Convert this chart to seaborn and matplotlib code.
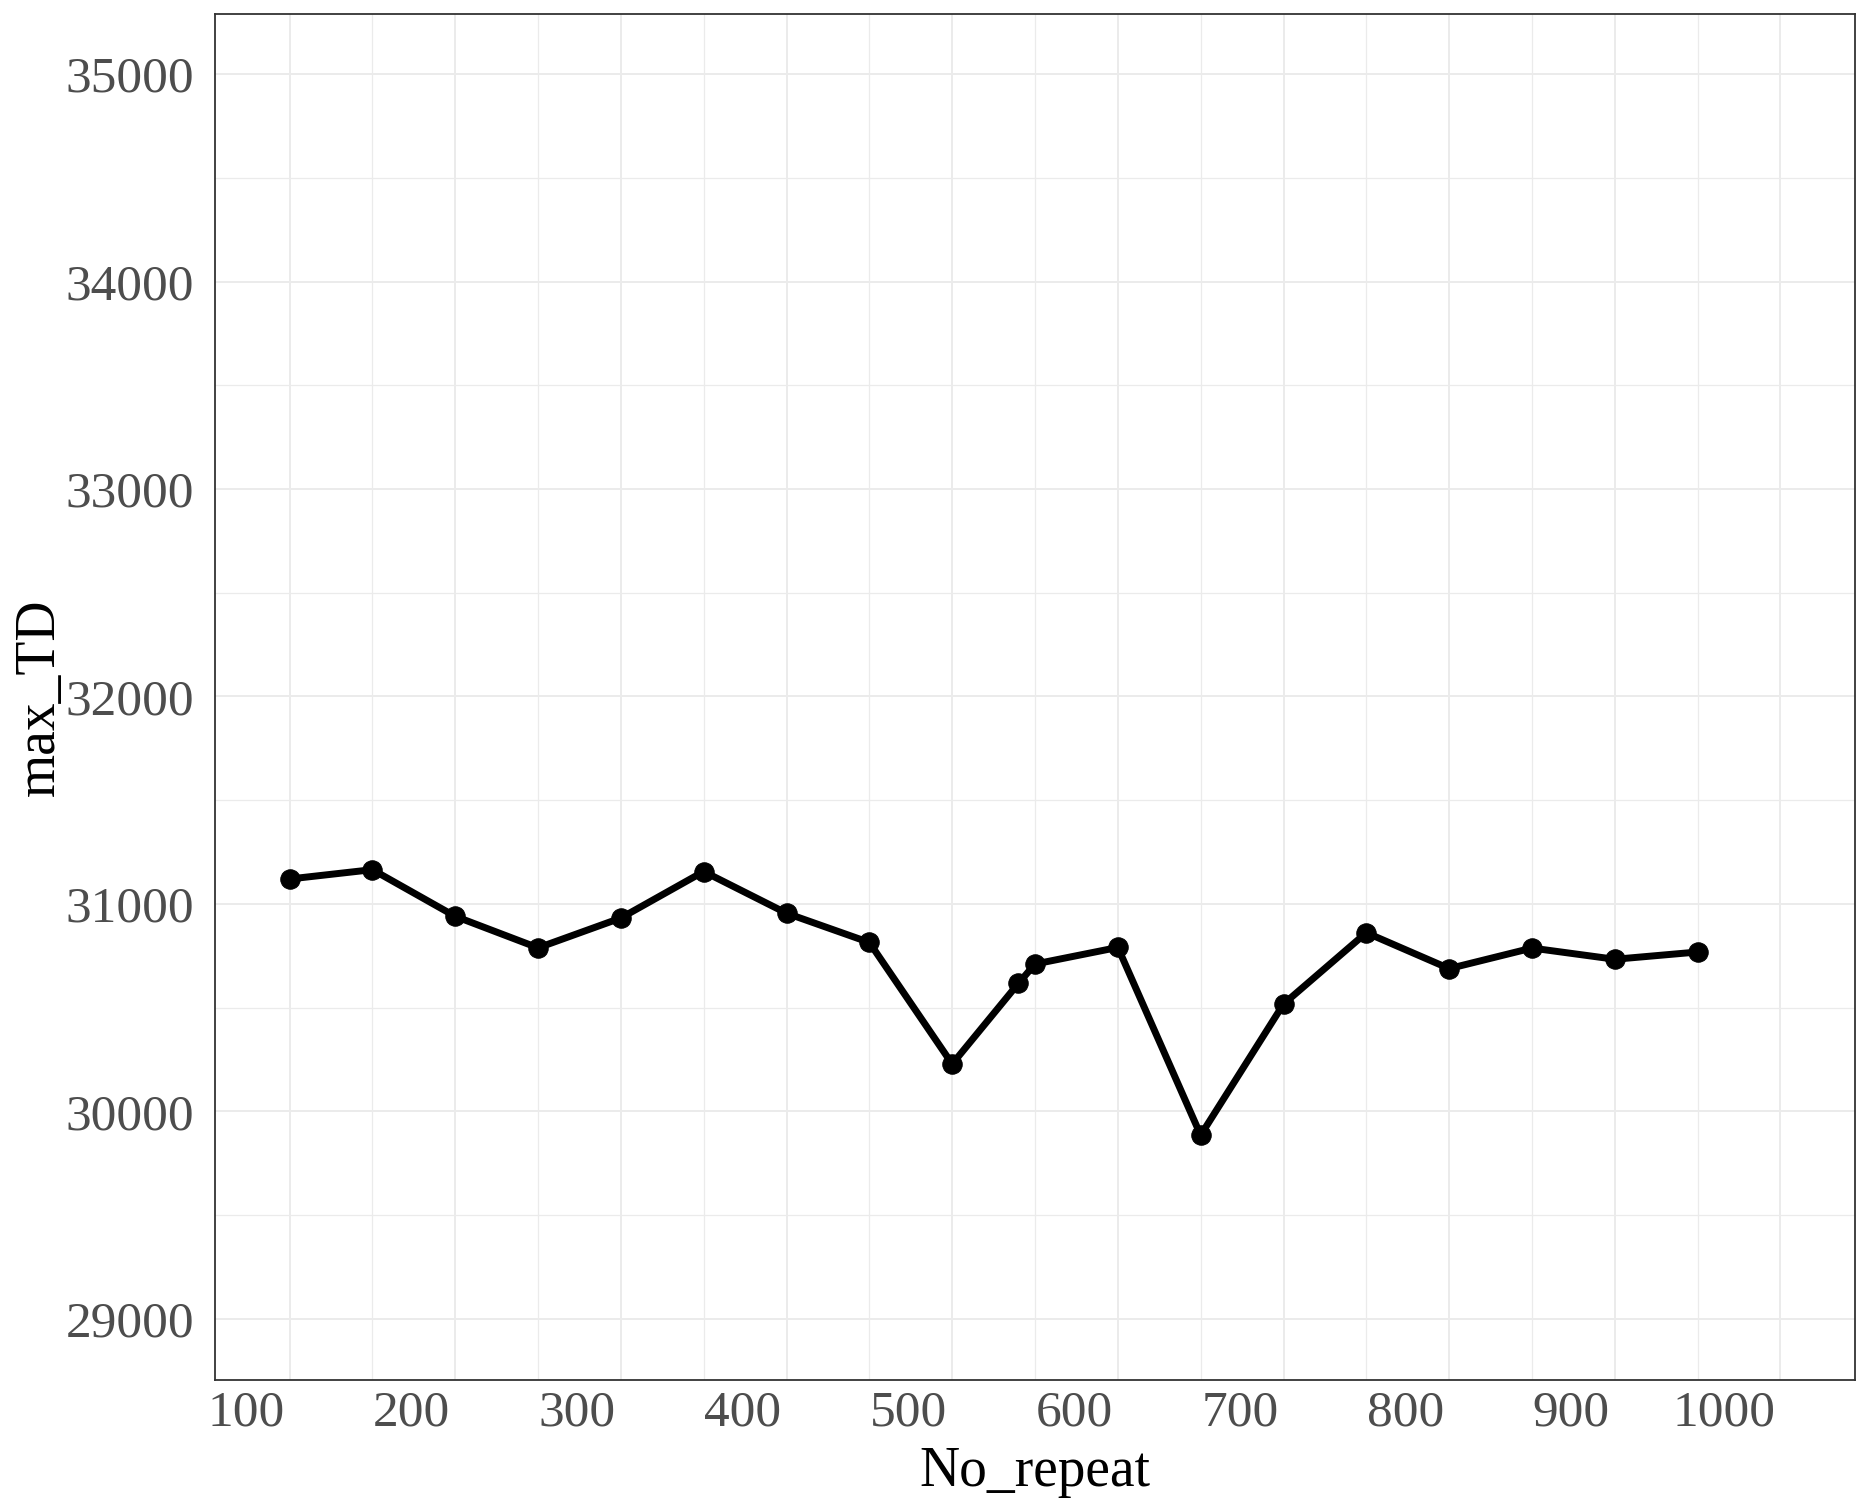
import matplotlib
matplotlib.use("Agg")
import matplotlib.pyplot as plt
import matplotlib.transforms as mtransforms
import numpy as np
import pandas as pd
import seaborn as sns
from matplotlib.ticker import MultipleLocator

# valores
no_repeat = [100, 150, 200, 250, 300, 350, 400, 450, 500, 540,
             550, 600, 650, 700, 750, 800, 850, 900, 950]
max_td = [31120, 31165, 30940, 30788, 30932, 31156, 30955, 30814, 30228, 30617,
          30710, 30790, 29885, 30517, 30861, 30688, 30787, 30733, 30768]

x_ticks = [100, 200, 300, 400, 500, 600, 700, 800, 900, 1000]
y_ticks = [29000, 30000, 31000, 32000, 33000, 34000, 35000]

df = pd.DataFrame({"No_repeat": no_repeat, "max_TD": max_td})

sns.set_style("white")
plt.rcParams['font.family'] = ['Liberation Serif', 'DejaVu Serif']

fig, ax = plt.subplots(figsize=(18.73, 15.05), dpi=100)
fig.subplots_adjust(left=0.1148, right=0.9904, top=0.9907, bottom=0.0831)

sns.lineplot(x="No_repeat", y="max_TD", data=df, ax=ax, color="black",
             linewidth=5, marker="o", markersize=14, markeredgecolor="black",
             zorder=3)

ax.set_xlim(55, 1045)
ax.set_ylim(28705, 35290)
ax.set_xticks(x_ticks)
ax.set_yticks(y_ticks)
ax.xaxis.set_minor_locator(MultipleLocator(50))
ax.yaxis.set_minor_locator(MultipleLocator(500))

ax.grid(which="major", color="#EBEBEB", linewidth=1.4)
ax.grid(which="minor", color="#EBEBEB", linewidth=0.9)
ax.set_axisbelow(True)

for s in ax.spines.values():
    s.set_color("#333333")
    s.set_linewidth(1.3)

ax.tick_params(axis="both", which="major", length=4, width=1.1, color="#333333",
               labelsize=37, labelcolor="#4D4D4D")
ax.tick_params(axis="x", which="major", pad=3)
ax.tick_params(axis="y", which="major", pad=11)
ax.tick_params(axis="both", which="minor", length=0)

# etiquetas del eje x alineadas a la derecha del tick
desplaza = mtransforms.ScaledTranslation(-5 / 100, 0, fig.dpi_scale_trans)
for lab in ax.get_xticklabels():
    lab.set_horizontalalignment("right")
    lab.set_transform(lab.get_transform() + desplaza)

ax.set_xlabel("No_repeat", fontsize=40, color="black", labelpad=7)
ax.set_ylabel("max_TD", fontsize=40, color="black")
ax.yaxis.set_label_coords(-0.091, 0.5)

fig.savefig("out.png", dpi=100)
